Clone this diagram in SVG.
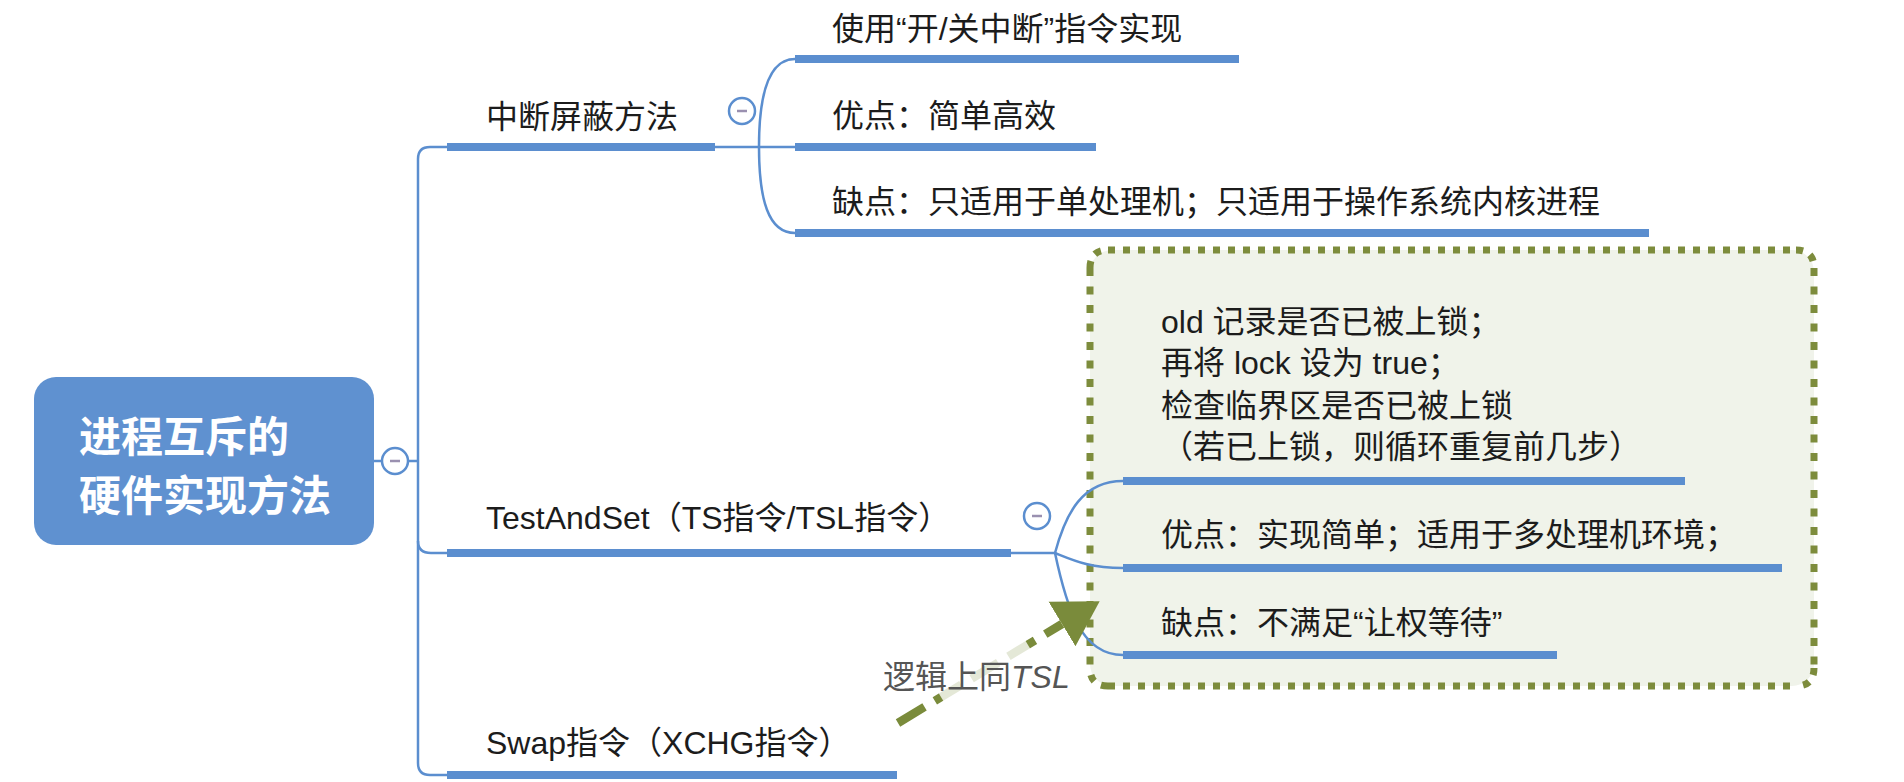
<svg xmlns="http://www.w3.org/2000/svg" width="1904" height="782" viewBox="0 0 1904 782">
<defs>
<style>
.t{font-family:"Liberation Sans","Noto Sans CJK SC",sans-serif;font-size:32px;fill:#1c1c1c;}
.root{font-family:"Liberation Sans","Noto Sans CJK SC",sans-serif;font-size:42px;font-weight:bold;fill:#ffffff;}
.bar{stroke:#5b8ecf;stroke-width:8;fill:none;}
.thin{stroke:#5b8ecf;stroke-width:2.5;fill:none;}
.col{fill:#ffffff;stroke:#5b8ecf;stroke-width:2.5;}
.minus{stroke:#9a90b0;stroke-width:2.5;}
.dotH{fill:none;stroke:#7d8c3c;stroke-width:7;stroke-dasharray:7 8;}
.dotV{fill:none;stroke:#7d8c3c;stroke-width:7;stroke-dasharray:8 10.5;}
</style>
<marker id="ah" markerUnits="userSpaceOnUse" markerWidth="56" markerHeight="56" refX="0" refY="26" orient="auto" viewBox="0 0 56 52">
<path d="M0,0 L44,26 L0,52 z" fill="#7a8b3b"/>
</marker>
</defs>
<rect width="1904" height="782" fill="#ffffff"/>

<g id="summary">
<rect x="1090" y="250" width="724" height="436" rx="22" fill="#f0f3ea"/>
<path class="dotH" d="M1108,250 H1796"/>
<path class="dotH" d="M1108,686 H1796"/>
<path class="dotV" d="M1090,268 V668"/>
<path class="dotV" d="M1814,268 V668"/>
<path class="dotH" d="M1090,268 Q1090,250 1108,250"/>
<path class="dotH" d="M1796,250 Q1814,250 1814,268"/>
<path class="dotH" d="M1814,668 Q1814,686 1796,686"/>
<path class="dotH" d="M1108,686 Q1090,686 1090,668"/>
</g>

<g id="connectors">
<path class="thin" d="M373,461 H418"/>
<path class="thin" d="M447,147 H430 Q418,147 418,159 V763 Q418,775 430,775 H447"/>
<path class="thin" d="M418,541 Q418,553 431,553 H447"/>
<path class="thin" d="M715,147 H795"/>
<path class="thin" d="M759,147 C759,95 768,59 795,59"/>
<path class="thin" d="M759,147 C759,199 768,233 795,233"/>
<path class="thin" d="M1011,553 H1055"/>
<path class="thin" d="M1055,553 C1066,512 1083,481 1123,481"/>
<path class="thin" d="M1055,553 C1075,561 1090,568 1123,568"/>
<path class="thin" d="M1055,553 C1066,605 1080,655 1123,655"/>
<path d="M898,723 L1062,624" fill="none" stroke="#7a8b3b" stroke-width="8.5" stroke-dasharray="31 12" marker-end="url(#ah)"/>
<path d="M941,697 L1028,645" fill="none" stroke="#ffffff" stroke-opacity="0.8" stroke-width="14"/>
</g>

<g id="root">
<rect x="34" y="377" width="340" height="168" rx="22" fill="#5f91d0"/>
<text class="root" x="79" y="452">进程互斥的</text>
<text class="root" x="79" y="511">硬件实现方法</text>
<circle class="col" cx="395" cy="461" r="13"/>
<line class="minus" x1="390" y1="461" x2="400" y2="461"/>
</g>

<g id="n-zhongduan">
<line class="bar" x1="447" y1="147" x2="715" y2="147"/>
<text class="t" x="486" y="128">中断屏蔽方法</text>
<circle class="col" cx="742" cy="111" r="13"/>
<line class="minus" x1="737" y1="111" x2="747" y2="111"/>
</g>
<g id="n-zd1">
<line class="bar" x1="795" y1="59" x2="1239" y2="59"/>
<text class="t" x="832" y="40">使用“开/关中断”指令实现</text>
</g>
<g id="n-zd2">
<line class="bar" x1="795" y1="147" x2="1096" y2="147"/>
<text class="t" x="832" y="127">优点：简单高效</text>
</g>
<g id="n-zd3">
<line class="bar" x1="795" y1="233" x2="1649" y2="233"/>
<text class="t" x="832" y="213">缺点：只适用于单处理机；只适用于操作系统内核进程</text>
</g>

<g id="n-ts">
<line class="bar" x1="447" y1="553" x2="1011" y2="553"/>
<text class="t" x="486" y="529">TestAndSet（TS指令/TSL指令）</text>
<circle class="col" cx="1037" cy="516" r="13"/>
<line class="minus" x1="1032" y1="516" x2="1042" y2="516"/>
</g>
<g id="n-ts1">
<line class="bar" x1="1123" y1="481" x2="1685" y2="481"/>
<text class="t" x="1161" y="333">old 记录是否已被上锁；</text>
<text class="t" x="1161" y="374">再将 lock 设为 true；</text>
<text class="t" x="1161" y="417">检查临界区是否已被上锁</text>
<text class="t" x="1161" y="458">（若已上锁，则循环重复前几步）</text>
</g>
<g id="n-ts2">
<line class="bar" x1="1123" y1="568" x2="1782" y2="568"/>
<text class="t" x="1161" y="546">优点：实现简单；适用于多处理机环境；</text>
</g>
<g id="n-ts3">
<line class="bar" x1="1123" y1="655" x2="1557" y2="655"/>
<text class="t" x="1161" y="634">缺点：不满足“让权等待”</text>
</g>

<g id="n-swap">
<line class="bar" x1="447" y1="775" x2="897" y2="775"/>
<text class="t" x="486" y="754">Swap指令（XCHG指令）</text>
</g>

<g id="label">
<text class="t" x="883" y="688" style="fill:#555">逻辑上同<tspan font-style="italic">TSL</tspan></text>
</g>
</svg>
